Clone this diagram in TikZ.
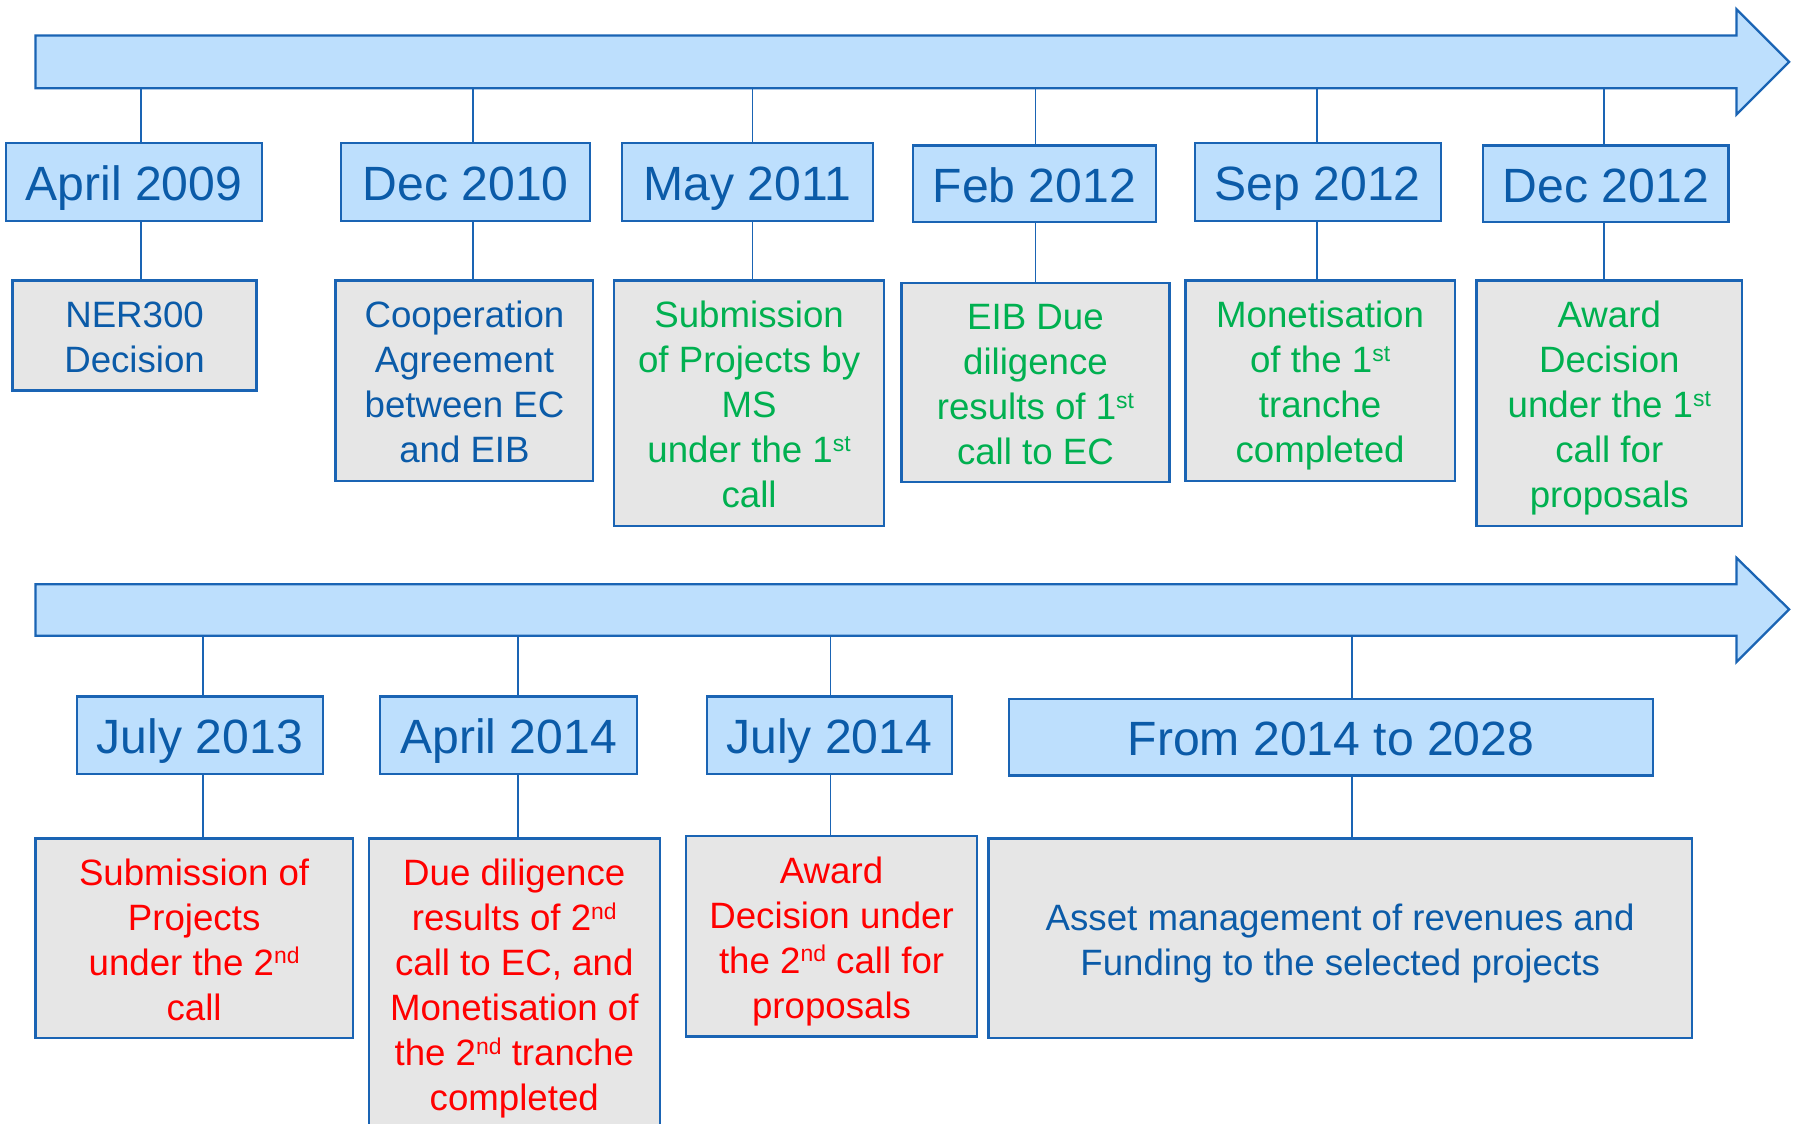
\documentclass[tikz,border=0pt]{standalone}
\usepackage{fontspec}
\setmainfont{Liberation Sans}
\usetikzlibrary{calc}

\definecolor{barfill}{HTML}{BDDFFD}
\definecolor{edge}{HTML}{1A64B4}
\definecolor{datetext}{HTML}{0B5BA8}
\definecolor{boxfill}{HTML}{E6E6E6}
\definecolor{greentext}{HTML}{00B050}
\definecolor{redtext}{HTML}{FF0000}

% small raised ordinal suffix (no effect on line height)
\newcommand\ordsup[1]{\raisebox{10pt}[0pt][0pt]{\fontsize{20}{20}\selectfont #1}}
% fixed first-line height and last-line depth so every text block is centred alike
\newcommand\topstrut{\rule{0pt}{33.5pt}}
\newcommand\botstrut{\rule[-8.3pt]{0pt}{8.3pt}}

\tikzset{
  bar/.style={draw=edge, line width=2pt, fill=barfill, line join=miter},
  datebox/.style={draw=edge, line width=2pt, fill=barfill, text=datetext,
    font=\fontsize{42}{50}\selectfont, inner sep=0pt,
    text height=40pt, text depth=8pt},
  eventbox/.style={draw=edge, line width=2pt, fill=boxfill, align=center,
    font=\fontsize{32}{39.3}\selectfont, inner sep=0pt,
    execute at end node=\botstrut},
  bluetxt/.style={eventbox, text=datetext},
  greentxt/.style={eventbox, text=greentext},
  redtxt/.style={eventbox, text=redtext},
  tick/.style={draw=edge, line width=1.6pt}
}

\begin{document}
\begin{tikzpicture}[x=1pt, y=-1pt]
\useasboundingbox (0,0) rectangle (1568,981);
\clip (0,0) rectangle (1568,981);

% timeline arrows
\draw[bar] (31,31) -- (1516,31) -- (1516,8) -- (1562,54) -- (1516,100)
  -- (1516,77) -- (31,77) -- cycle;
\draw[bar] (31,510) -- (1516,510) -- (1516,487) -- (1562,532) -- (1516,578)
  -- (1516,555) -- (31,555) -- cycle;
\coordinate (axisA) at (0,77);
\coordinate (axisB) at (0,555);

% first row: dates
\node[datebox, minimum width=224pt, minimum height=68pt] (d1) at (117,159) {April 2009};
\node[datebox, minimum width=217pt, minimum height=68pt] (d2) at (406.5,159) {Dec 2010};
\node[datebox, minimum width=219pt, minimum height=68pt] (d3) at (652.5,159) {May 2011};
\node[datebox, minimum width=212pt, minimum height=67pt] (d4) at (903,160.5) {Feb 2012};
\node[datebox, minimum width=215pt, minimum height=68pt] (d5) at (1150.5,159) {Sep 2012};
\node[datebox, minimum width=214pt, minimum height=67pt] (d6) at (1402,160.5) {Dec 2012};

% first row: events
\node[bluetxt, minimum width=213pt, minimum height=96pt] (e1) at (117.5,293)
  {\topstrut NER300\\Decision};
\node[bluetxt, minimum width=225pt, minimum height=175pt] (e2) at (405.5,332.5)
  {\topstrut Cooperation\\Agreement\\between EC\\and EIB};
\node[greentxt, minimum width=236pt, minimum height=214pt] (e3) at (654,352)
  {\topstrut Submission\\of Projects by\\MS\\under the 1\ordsup{st}\\call};
\node[greentxt, minimum width=234pt, minimum height=174pt] (e4) at (904,334)
  {\topstrut EIB Due\\diligence\\results of 1\ordsup{st}\\call to EC};
\node[greentxt, minimum width=235pt, minimum height=175pt] (e5) at (1152.5,332.5)
  {\topstrut Monetisation\\of the 1\ordsup{st}\\tranche\\completed};
\node[greentxt, minimum width=232pt, minimum height=214pt] (e6) at (1405,352)
  {\topstrut Award\\Decision\\under the 1\ordsup{st}\\call for\\proposals};

% second row: dates
\node[datebox, minimum width=215pt, minimum height=68pt] (f1) at (174.5,642) {July 2013};
\node[datebox, minimum width=224pt, minimum height=68pt] (f2) at (444,642) {April 2014};
\node[datebox, minimum width=214pt, minimum height=68pt] (f3) at (724,642) {July 2014};
\node[datebox, minimum width=562pt, minimum height=67pt] (f4) at (1162,643.5) {From 2014 to 2028};

% second row: events
\node[redtxt, minimum width=277pt, minimum height=174pt] (g1) at (169.5,819)
  {\topstrut Submission of\\Projects\\under the 2\ordsup{nd}\\call};
\node[redtxt, minimum width=254pt, minimum height=254pt] (g2) at (449,859)
  {\topstrut Due diligence\\results of 2\ordsup{nd}\\call to EC, and\\Monetisation of\\the 2\ordsup{nd} tranche\\completed};
\node[redtxt, minimum width=254pt, minimum height=175pt] (g3) at (726,817.5)
  {\topstrut Award\\Decision under\\the 2\ordsup{nd} call for\\proposals};
\node[bluetxt, minimum width=614pt, minimum height=174pt] (g4) at (1170,819)
  {\topstrut Asset management of revenues and\\Funding to the selected projects};

% tick positions along the timelines
\coordinate (t1) at (123,0);
\coordinate (t2) at (413,0);
\coordinate (t3) at (657,0);
\coordinate (t4) at (904,0);
\coordinate (t5) at (1150,0);
\coordinate (t6) at (1400,0);
\coordinate (u1) at (177,0);
\coordinate (u2) at (452,0);
\coordinate (u3) at (725,0);
\coordinate (u4) at (1180,0);

% connectors: timeline -> date -> event
\foreach \t/\d/\e in {t1/d1/e1, t2/d2/e2, t3/d3/e3, t4/d4/e4, t5/d5/e5, t6/d6/e6}{
  \draw[tick] (\t |- axisA) -- (\t |- \d.north);
  \draw[tick] (\t |- \d.south) -- (\t |- \e.north);
}
\foreach \t/\d/\e in {u1/f1/g1, u2/f2/g2, u3/f3/g3, u4/f4/g4}{
  \draw[tick] (\t |- axisB) -- (\t |- \d.north);
  \draw[tick] (\t |- \d.south) -- (\t |- \e.north);
}
\end{tikzpicture}
\end{document}
